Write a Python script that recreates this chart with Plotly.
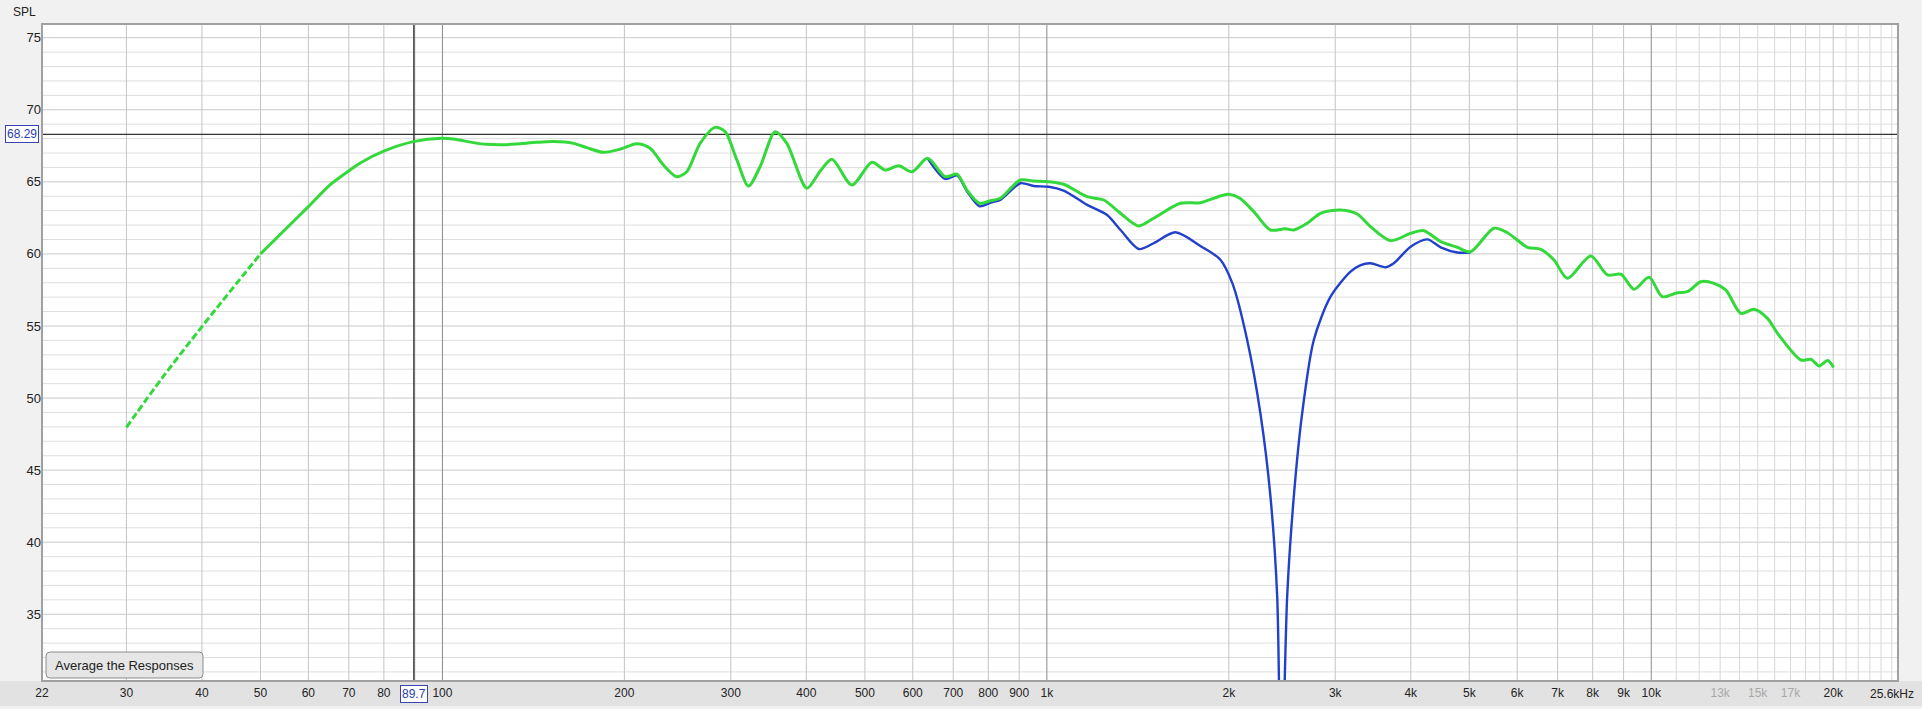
import math
import plotly.graph_objects as go

# ---------------- data ----------------
dash_freq = [30, 34.5, 40, 44.5, 50]
dash_spl = [47.97, 51.48, 54.95, 57.38, 60.0]

green_freq = [50, 55.2, 60, 65.1, 70.3, 73, 80.3, 89.5, 99.7, 104.2, 112.5, 118.3, 126.1,
              134.4, 143.2, 152.6, 164.7, 173.3, 184.6, 196.7, 209.6, 220.6, 232, 244.1,
              253.6, 266.9, 282.6, 293.6, 307, 320.8, 335.4, 355.2, 371.4, 400.8, 421.8,
              441, 475.8, 513.5, 540.3, 568.6, 598.3, 634.9, 679, 710, 737.6, 774, 806,
              837.6, 904, 951, 1007, 1066, 1166, 1242, 1324, 1419, 1502, 1663, 1795, 1937,
              2008, 2086, 2200, 2344, 2482, 2562, 2696, 2836, 3061, 3262, 3432, 3704, 3999,
              4207, 4483, 4775, 5024, 5491, 5782, 6240, 6564, 6903, 7266, 7941, 8463, 8904,
              9366, 9915, 10435, 11050, 11479, 12076, 12703, 13283, 14064, 14795, 15570,
              16178, 17682, 18368, 18962, 19580, 20031]
green_spl = [60.0, 61.78, 63.28, 64.78, 65.82, 66.29, 67.16, 67.79, 68.02, 67.97, 67.72, 67.6,
             67.57, 67.65, 67.74, 67.79, 67.67, 67.37, 67.05, 67.26, 67.65, 67.33, 66.17, 65.36,
             65.7, 67.67, 68.78, 68.48, 66.52, 64.71, 66.05, 68.48, 67.67, 64.55, 65.75,
             66.56, 64.78, 66.36, 65.82, 66.12, 65.7, 66.63, 65.36, 65.54, 64.43, 63.51, 63.69,
             63.86, 65.13, 65.06, 65.01, 64.83, 63.97, 63.74, 62.82, 61.94, 62.47, 63.51, 63.55,
             64.02, 64.13, 63.86, 62.93, 61.66, 61.75, 61.66, 62.12, 62.82, 63.05, 62.77, 61.89,
             60.92, 61.43, 61.61, 60.85, 60.46, 60.15, 61.78, 61.47, 60.46, 60.32, 59.58, 58.31,
             59.85, 58.54, 58.59, 57.55, 58.38, 57.03, 57.31, 57.38, 58.07, 57.96, 57.5, 55.88,
             56.16, 55.53, 54.49, 52.64, 52.69, 52.23, 52.6, 52.13]

blue_freq = [634.9, 679, 710, 737.6, 774, 806, 837.6, 904, 951, 1007, 1066, 1166, 1258, 1324,
             1419, 1502, 1632, 1795, 1937, 2030, 2145, 2256, 2344, 2405, 2442, 2498, 2562,
             2645, 2765, 2947, 3180, 3306, 3432, 3635, 3750, 3999, 4260, 4483, 4775, 5024]
blue_spl = [66.63, 65.2, 65.45, 64.35, 63.3, 63.55, 63.75, 64.9, 64.71, 64.66, 64.39, 63.4,
            62.7, 61.66, 60.34, 60.74, 61.5, 60.55, 59.6, 57.9, 54.03, 48.94, 43.16, 36.22,
            22.0, 36.22, 43.16, 48.94, 54.03, 57.03, 58.77, 59.23, 59.35, 59.07, 59.35, 60.5,
            61.01, 60.46, 60.1, 60.1]

x_tick_vals = [21.75, 30, 40, 50, 60, 70, 80, 100, 200, 300, 400, 500, 600, 700, 800, 900,
               1000, 2000, 3000, 4000, 5000, 6000, 7000, 8000, 9000, 10000, 13000, 15000,
               17000, 20000]
x_tick_text = ["22", "30", "40", "50", "60", "70", "80", "100", "200", "300", "400", "500",
               "600", "700", "800", "900", "1k", "2k", "3k", "4k", "5k", "6k", "7k", "8k",
               "9k", "10k", "<span style='color:#a8a8a8'>13k</span>",
               "<span style='color:#a8a8a8'>15k</span>",
               "<span style='color:#a8a8a8'>17k</span>", "20k"]
y_tick_vals = [35, 40, 45, 50, 55, 60, 65, 70, 75]
y_tick_text = [str(v) for v in y_tick_vals]

grid_freqs = ([30, 40, 50, 60, 70, 80, 90, 100, 200, 300, 400, 500, 600, 700, 800, 900, 1000,
               2000, 3000, 4000, 5000, 6000, 7000, 8000, 9000, 10000]
              + [k * 1000 for k in range(11, 26)])
decade_freqs = [100, 1000, 10000]

cursor_freq = 89.7
cursor_spl = 68.29
x_min_hz, x_max_hz = 21.75, 25600
y_min_db, y_max_db = 30.37, 75.95

# ---------------- geometry ----------------
W, H = 1922, 709
ML, MR, MT, MB = 42, 24, 24, 28
PW, PH = W - ML - MR, H - MT - MB


def pxx(px):
    return (px - ML) / PW


def pxy(py):
    return (H - MB - py) / PH


FONT = "Liberation Sans, Arial, sans-serif"
GREEN = "#33d93a"
BLUE = "#2140cc"

fig = go.Figure()

fig.add_trace(go.Scatter(x=blue_freq, y=blue_spl, mode="lines",
                         line=dict(color=BLUE, width=2.4, shape="spline", smoothing=0.8),
                         hoverinfo="skip", showlegend=False))
fig.add_trace(go.Scatter(x=dash_freq, y=dash_spl, mode="lines",
                         line=dict(color=GREEN, width=3, dash="7px,3px", shape="spline"),
                         hoverinfo="skip", showlegend=False))
fig.add_trace(go.Scatter(x=green_freq, y=green_spl, mode="lines",
                         line=dict(color=GREEN, width=3, shape="spline", smoothing=0.8),
                         hoverinfo="skip", showlegend=False))

shapes = []
# bottom band for x labels
shapes.append(dict(type="rect", xref="paper", yref="paper", x0=pxx(0), x1=pxx(W),
                   y0=pxy(H - MB), y1=pxy(706), fillcolor="#e2e2e2", line_width=0,
                   layer="below"))
# horizontal grid every 1 dB
for d in range(31, 76):
    col = "#c9c9c9" if d % 5 == 0 else "#dedede"
    shapes.append(dict(type="line", xref="paper", yref="y", x0=0, x1=1, y0=d, y1=d,
                       line=dict(color=col, width=1), layer="below"))
# vertical grid
for f in grid_freqs:
    if f in decade_freqs:
        col = "#8a8a8a"
    elif f > 10000 and f != 20000:
        col = "#d8d8d8"
    else:
        col = "#c4c4c4"
    shapes.append(dict(type="line", xref="x", yref="paper", x0=f, x1=f, y0=0, y1=1,
                       line=dict(color=col, width=1), layer="below"))
# cursor lines
shapes.append(dict(type="line", xref="x", yref="paper", x0=cursor_freq, x1=cursor_freq,
                   y0=0, y1=1, line=dict(color="#222222", width=1.3), layer="below"))
shapes.append(dict(type="line", xref="paper", yref="y", x0=0, x1=1, y0=cursor_spl,
                   y1=cursor_spl, line=dict(color="#333333", width=1.3), layer="below"))
# plot border
shapes.append(dict(type="rect", xref="paper", yref="paper", x0=0, x1=1, y0=0, y1=1,
                   line=dict(color="#a0a0a0", width=2), layer="above"))

# button (rounded rect)
bx0, bx1, by0, by1, r = 46, 203, 652, 678, 4
path = (f"M {pxx(bx0 + r)},{pxy(by0)} L {pxx(bx1 - r)},{pxy(by0)} "
        f"Q {pxx(bx1)},{pxy(by0)} {pxx(bx1)},{pxy(by0 + r)} "
        f"L {pxx(bx1)},{pxy(by1 - r)} Q {pxx(bx1)},{pxy(by1)} {pxx(bx1 - r)},{pxy(by1)} "
        f"L {pxx(bx0 + r)},{pxy(by1)} Q {pxx(bx0)},{pxy(by1)} {pxx(bx0)},{pxy(by1 - r)} "
        f"L {pxx(bx0)},{pxy(by0 + r)} Q {pxx(bx0)},{pxy(by0)} {pxx(bx0 + r)},{pxy(by0)} Z")
shapes.append(dict(type="path", xref="paper", yref="paper", path=path,
                   fillcolor="#e6e6e6", line=dict(color="#8c8c8c", width=1), layer="above"))

annotations = [
    dict(text="Average the Responses", xref="paper", yref="paper",
         x=pxx((bx0 + bx1) / 2), y=pxy((by0 + by1) / 2), xanchor="center", yanchor="middle",
         showarrow=False, font=dict(family=FONT, size=13, color="#222222")),
    dict(text="SPL", xref="paper", yref="paper", x=pxx(24), y=pxy(12),
         xanchor="center", yanchor="middle", showarrow=False,
         font=dict(family=FONT, size=12, color="#222222")),
    dict(text=f"{cursor_spl:.2f}", xref="paper", yref="y", x=pxx(22), y=cursor_spl,
         xanchor="center", yanchor="middle", showarrow=False, bgcolor="#ffffff",
         bordercolor="#3a44b0", borderwidth=1, borderpad=1,
         font=dict(family=FONT, size=12, color="#2a3cb0")),
    dict(text=f"{cursor_freq}", xref="x", yref="paper", x=math.log10(cursor_freq),
         y=pxy(694), xanchor="center", yanchor="middle", showarrow=False, bgcolor="#ffffff",
         bordercolor="#3a44b0", borderwidth=1, borderpad=1,
         font=dict(family=FONT, size=12, color="#2a3cb0")),
    dict(text="25.6kHz", xref="paper", yref="paper", x=pxx(1892), y=pxy(694),
         xanchor="center", yanchor="middle", showarrow=False,
         font=dict(family=FONT, size=12, color="#222222")),
]

fig.update_layout(
    width=W, height=H,
    margin=dict(l=ML, r=MR, t=MT, b=MB, pad=0, autoexpand=False),
    paper_bgcolor="#f1f1f1", plot_bgcolor="#ffffff",
    shapes=shapes, annotations=annotations, showlegend=False,
    xaxis=dict(type="log", range=[math.log10(x_min_hz), math.log10(x_max_hz)],
               tickvals=x_tick_vals, ticktext=x_tick_text, showgrid=False, zeroline=False,
               showline=False, ticks="", ticklabelstandoff=3, automargin=False,
               tickfont=dict(family=FONT, size=12, color="#222222")),
    yaxis=dict(range=[y_min_db, y_max_db], tickvals=y_tick_vals, ticktext=y_tick_text,
               showgrid=False, zeroline=False, showline=False, ticks="", automargin=False,
               tickfont=dict(family=FONT, size=13, color="#222222")),
)

fig.write_html("out.html", config={"displayModeBar": False},
               post_script="document.body.style.margin='0';document.body.style.overflow='hidden';")
